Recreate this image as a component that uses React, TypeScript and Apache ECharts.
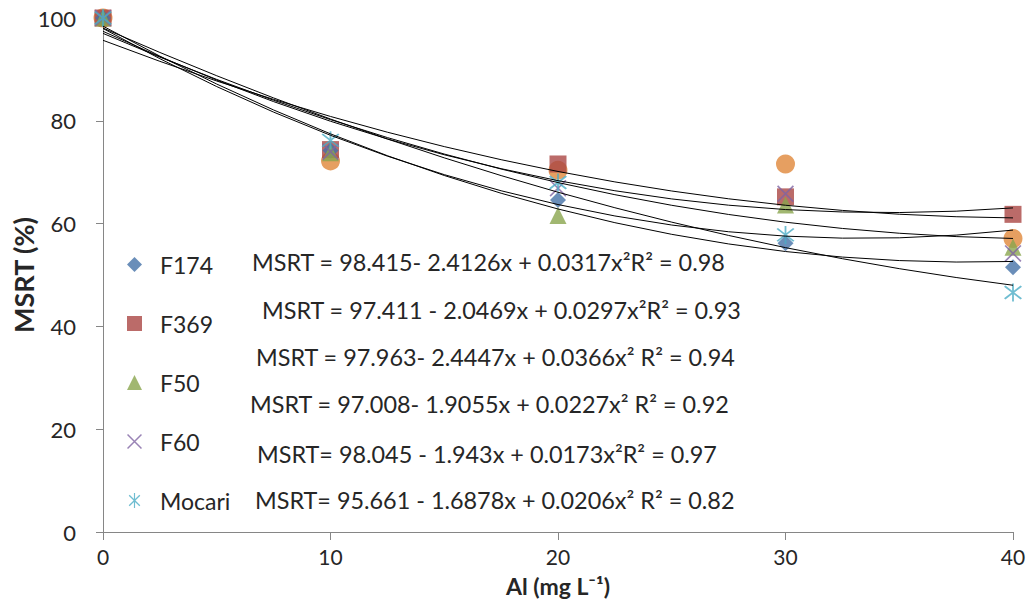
import React, { useEffect, useRef } from "react";
import * as echarts from "echarts";

const xValues = [0, 10, 20, 30, 40];
const seriesNames = ["F174", "F369", "F50", "F60", "Mocari"];
const f174 = [100, 74.2, 64.6, 56.2, 51.5];
const f369 = [100, 74.4, 71.6, 65.2, 61.8];
const f50 = [100, 73.8, 61.6, 63.6, 55.4];
const f60 = [100, 74.0, 66.9, 65.8, 54.2];
const mocari = [100, 76.2, 68.0, 57.8, 46.6];
const sixth = [100, 72.2, 70.4, 71.6, 57.1];

// trendline coefficients [a, b, c] for y = a + b x + c x^2 (from equation labels)
const trendA = [98.415, 97.411, 97.963, 97.008, 98.045, 95.661];
const trendB = [-2.4126, -2.0469, -2.4447, -1.9055, -1.943, -1.6878];
const trendC = [0.0317, 0.0297, 0.0366, 0.0227, 0.0173, 0.0206];

const equations = [
  "MSRT = 98.415- 2.4126x + 0.0317x²R² = 0.98",
  "MSRT = 97.411 - 2.0469x + 0.0297x²R² = 0.93",
  "MSRT = 97.963- 2.4447x + 0.0366x² R² = 0.94",
  "MSRT = 97.008- 1.9055x + 0.0227x² R² = 0.92",
  "MSRT= 98.045 - 1.943x + 0.0173x²R² = 0.97",
  "MSRT= 95.661 - 1.6878x + 0.0206x² R² = 0.82",
];
const eqPos = [
  [252, 262],
  [262, 310],
  [256, 357],
  [250, 404],
  [257, 454],
  [255, 500],
];

const X_PATH = "path://M0,0.7L0.7,0L10,9.3L9.3,10Z M9.3,0L10,0.7L0.7,10L0,9.3Z";
const AST_PATH =
  "path://M0,0.8L0.8,0L10,9.2L9.2,10Z M9.2,0L10,0.8L0.8,10L0,9.2Z M4.5,-1.5L5.5,-1.5L5.5,11.5L4.5,11.5Z";

const FONT = "Lato, 'Liberation Sans', sans-serif";

export default function App() {
  const ref = useRef<HTMLDivElement>(null);
  useEffect(() => {
    if (!ref.current) return;
    const chart = echarts.init(ref.current, null, { renderer: "svg" });
    const pts = (arr: number[]) => xValues.map((x, i) => [x, arr[i]]);
    const trendData = trendA.map((a, i) => [0, a, trendB[i], trendC[i]]);
    chart.setOption({
      animation: false,
      backgroundColor: "#ffffff",
      textStyle: { fontFamily: FONT },
      grid: { left: 103, right: 17, top: 18, bottom: 68, containLabel: false, outerBoundsMode: "none" },
      legend: {
        data: seriesNames,
        orient: "vertical",
        left: 122,
        top: 248,
        itemWidth: 15,
        itemHeight: 15,
        itemGap: 36,
        textStyle: {
          fontSize: 23,
          color: "#262626",
          fontFamily: FONT,
          padding: [0, 0, 0, 13],
        },
        selectedMode: false,
      },
      xAxis: {
        type: "value",
        min: 0,
        max: 40,
        interval: 10,
        name: "Al (mg L⁻¹)",
        nameLocation: "middle",
        nameGap: 42,
        nameMoveOverlap: false,
        nameTextStyle: { fontSize: 23, fontWeight: "bold", color: "#262626", fontFamily: FONT },
        axisLine: { lineStyle: { color: "#868686", width: 1 } },
        axisTick: { show: true, length: 8, lineStyle: { color: "#868686" } },
        axisLabel: { fontSize: 21, color: "#262626", margin: 14, fontFamily: FONT },
        splitLine: { show: false },
      },
      yAxis: {
        type: "value",
        min: 0,
        max: 100,
        interval: 20,
        name: "MSRT (%)",
        nameLocation: "middle",
        nameGap: 66,
        nameMoveOverlap: false,
        nameRotate: 90,
        nameTextStyle: { fontSize: 27, fontWeight: "bold", color: "#262626", fontFamily: FONT },
        axisLine: { show: true, lineStyle: { color: "#868686", width: 1 } },
        axisTick: { show: true, length: 7, lineStyle: { color: "#868686" } },
        axisLabel: { fontSize: 22, color: "#262626", margin: 27, fontFamily: FONT },
        splitLine: { show: false },
      },
      series: [
        {
          name: "Sixth",
          type: "scatter",
          data: pts(sixth),
          symbol: "circle",
          symbolSize: 19,
          itemStyle: { color: "#E0873A" },
          z: 1,
        },
        {
          name: "F369",
          type: "scatter",
          data: pts(f369),
          symbol: "rect",
          symbolSize: 17,
          itemStyle: { color: "#AA4643" },
          z: 2,
        },
        {
          name: "F174",
          type: "scatter",
          data: pts(f174),
          symbol: "diamond",
          symbolSize: 16,
          itemStyle: { color: "#4572A7" },
          z: 3,
        },
        {
          name: "F50",
          type: "scatter",
          data: pts(f50),
          symbol: "triangle",
          symbolSize: 17,
          itemStyle: { color: "#89A54E" },
          z: 3,
        },
        {
          name: "F60",
          type: "scatter",
          data: pts(f60),
          symbol: X_PATH,
          symbolSize: 17,
          itemStyle: { color: "#8064A2" },
          z: 4,
        },
        {
          name: "Mocari",
          type: "scatter",
          data: pts(mocari),
          symbol: AST_PATH,
          symbolSize: 18,
          itemStyle: { color: "#4BACC6" },
          z: 4,
        },
        {
          name: "Trend",
          type: "custom",
          data: trendData,
          encode: { x: 0, y: 1 },
          z: 10,
          silent: true,
          renderItem: (params: any, api: any) => {
            const a = api.value(1);
            const b = api.value(2);
            const c = api.value(3);
            const p0 = api.coord([0, a]);
            const p2 = api.coord([40, a + b * 40 + c * 1600]);
            const p1 = api.coord([20, a + b * 20]);
            return {
              type: "bezierCurve",
              shape: { x1: p0[0], y1: p0[1], x2: p2[0], y2: p2[1], cpx1: p1[0], cpy1: p1[1] },
              style: { stroke: "#000000", fill: "none", lineWidth: 1 },
            };
          },
        },
      ],
      graphic: equations.map((t, i) => ({
        type: "text",
        x: eqPos[i][0],
        y: eqPos[i][1],
        z: 20,
        style: {
          text: t,
          fill: "#262626",
          font: `23.4px ${FONT}`,
          verticalAlign: "middle",
          align: "left",
        },
      })),
    });
    return () => chart.dispose();
  }, []);
  return (
    <div
      ref={ref}
      style={{ position: "absolute", left: 0, top: 0, width: 1030, height: 600 }}
    />
  );
}
